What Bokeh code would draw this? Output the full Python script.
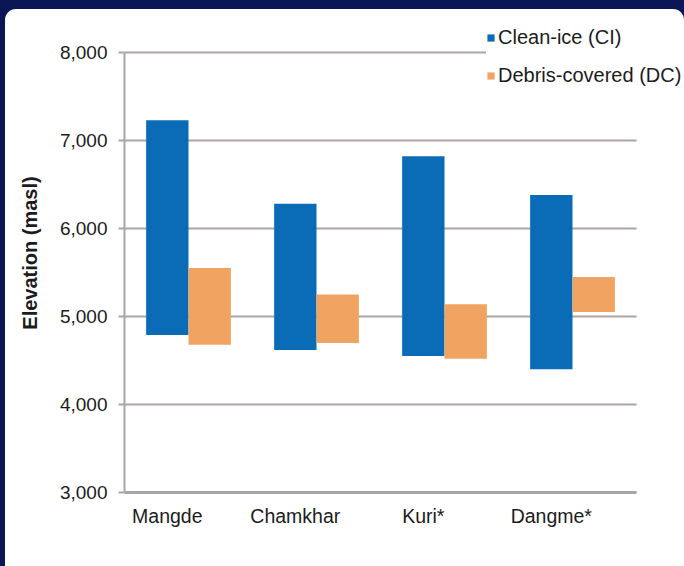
from bokeh.plotting import figure
from bokeh.layouts import column
from bokeh.models import Range1d, FixedTicker, NumeralTickFormatter, Legend, LegendItem, ColumnDataSource
from bokeh.embed import file_html
from bokeh.resources import INLINE

# ---- data ----
categories = ["Mangde", "Chamkhar", "Kuri*", "Dangme*"]
ci_top = [7230, 6280, 6820, 6380]
ci_bottom = [4790, 4620, 4550, 4400]
dc_top = [5550, 5250, 5140, 5450]
dc_bottom = [4680, 4700, 4520, 5050]
y_ticks = [3000, 4000, 5000, 6000, 7000, 8000]
series_names = ["Clean-ice (CI)", "Debris-covered (DC)"]

# ---- styles ----
NAVY = "#0a1656"
BLUE = "#0a6cb6"
ORANGE = "#f1a462"
GRID = "#aaa5a3"
TEXT = "#1c1c1c"
FONT = "Liberation Sans"
BW = 0.331            # bar width as fraction of a category slot
FIG_W, FIG_H = 679, 557
B_LEFT, B_RIGHT, B_TOP, B_BOTTOM = 119, 0, 4, 74
PX_PER_CAT = 128.0
PX_PER_UNIT = 0.088

frame_w = FIG_W - B_LEFT - B_RIGHT
frame_h = FIG_H - B_TOP - B_BOTTOM
x_start = -0.5 + BW / 2
x_end = x_start + frame_w / PX_PER_CAT
y_start = y_ticks[0]
y_end = y_start + frame_h / PX_PER_UNIT

idx = list(range(len(categories)))
ci_x = [i for i in idx]
dc_x = [i + BW for i in idx]
cat_end = x_start + len(categories)

p = figure(width=FIG_W, height=FIG_H, output_backend="svg", toolbar_location=None,
           x_range=Range1d(x_start, x_end), y_range=Range1d(y_start, y_end),
           min_border_left=B_LEFT, min_border_right=B_RIGHT,
           min_border_top=B_TOP, min_border_bottom=B_BOTTOM)
p.margin = (9, 0, 0, 5)
p.styles = {"background-color": "white", "border-radius": "11px 11px 0 0"}
p.border_fill_color = "white"
p.border_fill_alpha = 0
p.background_fill_color = "white"
p.background_fill_alpha = 0
p.outline_line_color = None
p.xgrid.visible = False
p.ygrid.visible = False

# horizontal gridlines, only across the category area
p.segment(x0=[x_start] * len(y_ticks), x1=[cat_end] * len(y_ticks), y0=y_ticks, y1=y_ticks,
          line_color=GRID, line_width=2, level="underlay")

src_ci = ColumnDataSource(dict(x=ci_x, top=ci_top, bottom=ci_bottom))
src_dc = ColumnDataSource(dict(x=dc_x, top=dc_top, bottom=dc_bottom))
r_ci = p.vbar(x="x", top="top", bottom="bottom", width=BW, source=src_ci,
              fill_color=BLUE, line_color=None)
r_dc = p.vbar(x="x", top="top", bottom="bottom", width=BW, source=src_dc,
              fill_color=ORANGE, line_color=None)

# y axis
p.yaxis.bounds = (y_ticks[0], y_ticks[-1])
p.yaxis.ticker = FixedTicker(ticks=y_ticks)
p.yaxis.formatter = NumeralTickFormatter(format="0,0")
p.yaxis.axis_line_color = GRID
p.yaxis.axis_line_width = 2
p.yaxis.major_tick_line_color = GRID
p.yaxis.major_tick_line_width = 2
p.yaxis.major_tick_out = 6
p.yaxis.major_tick_in = 0
p.yaxis.minor_tick_line_color = None
p.yaxis.major_label_text_font = FONT
p.yaxis.major_label_text_font_size = "19px"
p.yaxis.major_label_text_color = TEXT
p.yaxis.major_label_standoff = 11
p.yaxis.axis_label = "Elevation (masl)"
p.yaxis.axis_label_text_font = FONT
p.yaxis.axis_label_text_font_size = "20px"
p.yaxis.axis_label_text_font_style = "bold"
p.yaxis.axis_label_text_color = TEXT
p.yaxis.axis_label_standoff = 16

# x axis
p.xaxis.bounds = (x_start, cat_end)
p.xaxis.ticker = FixedTicker(ticks=ci_x)
p.xaxis.major_label_overrides = {i: c for i, c in zip(ci_x, categories)}
p.xaxis.axis_line_color = GRID
p.xaxis.axis_line_width = 3
p.xaxis.major_tick_line_color = None
p.xaxis.minor_tick_line_color = None
p.xaxis.major_tick_out = 0
p.xaxis.major_tick_in = 0
p.xaxis.major_label_text_font = FONT
p.xaxis.major_label_text_font_size = "19.5px"
p.xaxis.major_label_text_color = TEXT
p.xaxis.major_label_standoff = 12

legend = Legend(items=[LegendItem(label=series_names[0], renderers=[r_ci]),
                       LegendItem(label=series_names[1], renderers=[r_dc])],
                location=(362, 405), orientation="vertical")
legend.glyph_width = 9
legend.glyph_height = 9
legend.label_standoff = 3
legend.label_height = 20
legend.spacing = 15
legend.padding = 10
legend.margin = 0
legend.border_line_color = None
legend.background_fill_color = "white"
legend.background_fill_alpha = 1
legend.label_text_font = FONT
legend.label_text_font_size = "20px"
legend.label_text_color = TEXT
p.add_layout(legend, "center")

root = column(p, width=684, height=566, styles={"background-color": NAVY})

open("out.html", "w").write(file_html(root, INLINE))
